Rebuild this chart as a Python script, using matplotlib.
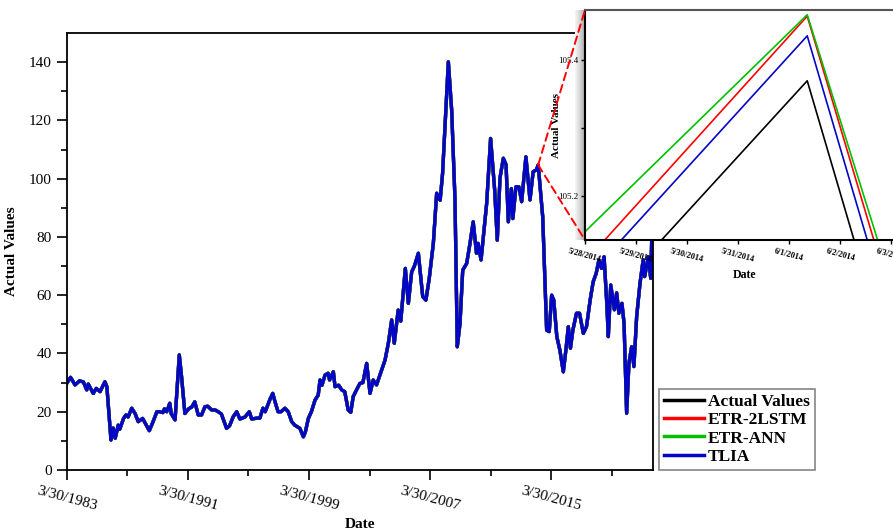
import datetime as dt
import numpy as np
import matplotlib
matplotlib.use("Agg")
import matplotlib.pyplot as plt
from matplotlib.patches import ConnectionPatch

plt.rcParams['font.family'] = ['Liberation Serif', 'DejaVu Serif']

# monthly-ish price series, x in decimal years
years = [1983.25, 1983.5, 1983.8, 1984.1, 1984.35, 1984.57, 1984.67, 1985.0, 1985.2, 1985.45,
         1985.77, 1985.9, 1986.17, 1986.32, 1986.45, 1986.65, 1986.75, 1987.0, 1987.16, 1987.3,
         1987.54, 1987.76, 1987.97, 1988.26, 1988.5, 1988.7, 1988.95, 1989.2, 1989.4, 1989.6,
         1989.7, 1989.85, 1990.05, 1990.15, 1990.4, 1990.68, 1990.83, 1991.05, 1991.3, 1991.5,
         1991.7, 1991.93, 1992.15, 1992.37, 1992.55, 1992.82, 1993.05, 1993.25, 1993.46, 1993.8,
         1994.0, 1994.24, 1994.47, 1994.68, 1995.02, 1995.3, 1995.46, 1995.8, 1996.0, 1996.2,
         1996.35, 1996.67, 1996.85, 1997.0, 1997.2, 1997.4, 1997.65, 1997.87, 1998.1, 1998.3,
         1998.64, 1998.87, 1999.0, 1999.2, 1999.4, 1999.64, 1999.85, 1999.97, 2000.1, 2000.3,
         2000.5, 2000.6, 2000.85, 2000.96, 2001.2, 2001.4, 2001.6, 2001.83, 2002.0, 2002.16,
         2002.38, 2002.6, 2002.8, 2003.05, 2003.27, 2003.48, 2003.7, 2004.04, 2004.26, 2004.48,
         2004.7, 2004.87, 2005.13, 2005.3, 2005.6, 2005.8, 2006.02, 2006.2, 2006.46, 2006.75,
         2006.96, 2007.18, 2007.45, 2007.67, 2007.9, 2008.06, 2008.44, 2008.66, 2008.88, 2009.03,
         2009.21, 2009.39, 2009.65, 2009.87, 2010.08, 2010.3, 2010.4, 2010.6, 2010.75, 2010.97,
         2011.23, 2011.5, 2011.67, 2011.85, 2012.07, 2012.25, 2012.4, 2012.6, 2012.7, 2012.9,
         2013.1, 2013.28, 2013.56, 2013.83, 2014.04, 2014.25, 2014.37, 2014.44, 2014.67, 2014.93,
         2015.1, 2015.26, 2015.4, 2015.6, 2015.8, 2016.03, 2016.2, 2016.36, 2016.5, 2016.66,
         2016.9, 2017.1, 2017.35, 2017.56, 2017.8, 2018.0, 2018.2, 2018.38, 2018.55, 2018.72,
         2018.9, 2019.0, 2019.16, 2019.4, 2019.55, 2019.7, 2019.9, 2020.04, 2020.21, 2020.36,
         2020.54, 2020.69, 2020.87, 2021.09, 2021.3, 2021.4, 2021.64, 2021.8, 2021.88]
price = [29.7, 31.8, 29.2, 30.6, 30.2, 27.5, 29.5, 26.3, 28.0, 26.9,
         30.3, 28.6, 10.3, 14.4, 10.9, 15.4, 14.0, 17.7, 18.9, 18.2,
         21.2, 19.4, 16.6, 17.7, 15.4, 13.5, 16.6, 20.0, 20.0, 19.7,
         21.0, 20.0, 22.9, 19.3, 17.2, 39.5, 32.0, 19.4, 21.0, 21.6,
         23.4, 18.9, 18.9, 21.7, 21.9, 20.6, 20.6, 20.0, 19.2, 14.3,
         15.2, 18.3, 20.0, 17.5, 18.2, 20.0, 17.5, 17.8, 17.8, 21.2,
         20.0, 24.3, 26.3, 23.4, 20.0, 20.0, 21.2, 20.0, 16.6, 15.4,
         14.3, 11.4, 13.0, 17.7, 20.0, 24.0, 25.7, 30.9, 29.1, 32.6,
         33.2, 30.9, 33.7, 28.6, 29.1, 27.5, 26.9, 20.6, 19.8, 25.2,
         27.5, 29.7, 30.0, 36.6, 26.3, 30.9, 29.2, 34.3, 37.7, 43.5,
         51.5, 43.5, 54.9, 51.1, 69.2, 57.2, 68.0, 70.0, 74.4, 59.5,
         58.3, 65.8, 77.8, 95.0, 92.6, 101.8, 140.1, 123.5, 92.7, 42.3,
         50.3, 68.6, 70.9, 77.8, 85.2, 74.4, 77.8, 72.1, 80.0, 91.5,
         113.8, 96.0, 78.9, 100.3, 107.0, 104.8, 85.2, 96.6, 86.3, 97.2,
         97.2, 92.1, 107.5, 92.7, 102.4, 103.0, 104.7, 100.7, 86.9, 48.0,
         47.5, 60.0, 58.3, 45.8, 41.2, 33.7, 41.2, 49.2, 41.8, 48.0,
         53.8, 53.8, 46.9, 49.2, 58.3, 64.6, 67.5, 72.1, 69.2, 73.2,
         57.2, 45.8, 63.5, 55.0, 60.8, 53.8, 57.2, 50.3, 19.5, 36.6,
         42.3, 35.5, 52.6, 64.0, 72.1, 66.4, 73.2, 65.8, 82.0]

series_names = ['Actual Values', 'ETR-2LSTM', 'ETR-ANN', 'TLIA']
series_colors = ['black', '#ff0000', '#00c000', '#0505c8']

# close-up around the 6/1/2014 peak
zoom_dates = [dt.datetime(2014, 5, 27), dt.datetime(2014, 6, 1, 8, 30), dt.datetime(2014, 6, 3)]
zoom_actual = [104.931, 105.370, 104.950]
zoom_etr_2lstm = [105.021, 105.465, 105.050]
zoom_etr_ann = [105.075, 105.467, 105.072]
zoom_tlia = [104.995, 105.436, 105.016]
zoom_point = (2014.37, 104.7)

major_years = [1983, 1991, 1999, 2007, 2015]
major_labels = ['3/30/1983', '3/30/1991', '3/30/1999', '3/30/2007', '3/30/2015']
zoom_tick_dates = [dt.datetime(2014, 5, d) for d in (28, 29, 30, 31)] + \
                  [dt.datetime(2014, 6, d) for d in (1, 2, 3)]
zoom_tick_labels = ['5/28/2014', '5/29/2014', '5/30/2014', '5/31/2014',
                    '6/1/2014', '6/2/2014', '6/3/2014']

W, H = 893, 530
fig = plt.figure(figsize=(W / 100, H / 100), dpi=100)


def px_axes(x0, y0, x1, y1, **kw):
    # axes from pixel box (left, top, right, bottom)
    return fig.add_axes([x0 / W, 1 - y1 / H, (x1 - x0) / W, (y1 - y0) / H], **kw)


ax = px_axes(66.6, 33, 653, 470)
handles = []
for name, col in zip(series_names, series_colors):
    h, = ax.plot(years, price, color=col, lw=2.4, label=name)
    handles.append(h)

off = 88 / 365.0  # March 30
ax.set_xlim(1983 + off, 2021.95)
ax.set_ylim(0, 150)
ax.set_xticks([y + off for y in major_years])
ax.set_xticklabels(major_labels, rotation=-15, ha='center', va='top')
ax.set_xticks([y + 4 + off for y in major_years], minor=True)
ax.set_yticks(np.arange(0, 141, 20))
ax.set_yticks(np.arange(10, 150, 20), minor=True)
ax.tick_params(axis='both', which='major', labelsize=11, length=7, width=1.2, direction='out')
ax.tick_params(axis='both', which='minor', length=4, width=1.2, direction='out')
ax.tick_params(axis='x', pad=3)
for s in ax.spines.values():
    s.set_linewidth(1.3)
ax.set_xlabel('Date', fontsize=11, fontweight='bold', labelpad=4)
ax.set_ylabel('Actual Values', fontsize=11, fontweight='bold', labelpad=8)

# soft shadow along the left edge of the close-up
shade = px_axes(575, 10, 585, 240)
shade.imshow(np.linspace(0, 1, 50).reshape(1, -1), cmap='Greys', vmin=-0.2, vmax=2.2,
             aspect='auto', extent=[0, 1, 0, 1])
shade.axis('off')

ins = px_axes(585, 10, 904, 240)
ins.set_facecolor('white')
zoom_series = [zoom_actual, zoom_etr_2lstm, zoom_etr_ann, zoom_tlia]
for vals, col in zip(zoom_series, series_colors):
    ins.plot(zoom_dates, vals, color=col, lw=1.2)
ins.set_xlim(dt.datetime(2014, 5, 28), dt.datetime(2014, 6, 3, 6))
ins.set_ylim(105.136, 105.474)
ins.set_xticks(zoom_tick_dates)
ins.set_xticklabels(zoom_tick_labels, rotation=-15, ha='center', va='top',
                    fontsize=6, fontweight='bold')
ins.set_yticks([105.2, 105.4])
ins.set_yticklabels(['105.2', '105.4'], fontsize=6.5)
ins.set_yticks([105.3], minor=True)
ins.tick_params(axis='both', which='both', length=3, width=1, direction='out', pad=2)
for s in ins.spines.values():
    s.set_linewidth(1.5)
ins.spines['top'].set_color('#555555')
ins.set_xlabel('Date', fontsize=8.5, fontweight='bold', labelpad=4)
ins.set_ylabel('Actual Values', fontsize=8, fontweight='bold', labelpad=-2)

for corner in [(0, 1), (0, 0)]:
    con = ConnectionPatch(xyA=zoom_point, coordsA=ax.transData,
                          xyB=corner, coordsB=ins.transAxes,
                          color='#ff0000', lw=1.4, ls=(0, (4, 2.5)))
    fig.add_artist(con)

leg = fig.legend(handles, series_names, loc='lower left',
                 bbox_to_anchor=(659 / W, 1 - 470 / H), frameon=True, fancybox=False,
                 prop={'size': 12.5, 'weight': 'bold'}, handlelength=2.3, handletextpad=0.2,
                 labelspacing=0.12, borderpad=0.3, borderaxespad=0)
leg.get_frame().set_edgecolor('#666666')
leg.get_frame().set_linewidth(1.2)
for line in leg.get_lines():
    line.set_linewidth(2.5)

fig.savefig('out.png', dpi=100)
